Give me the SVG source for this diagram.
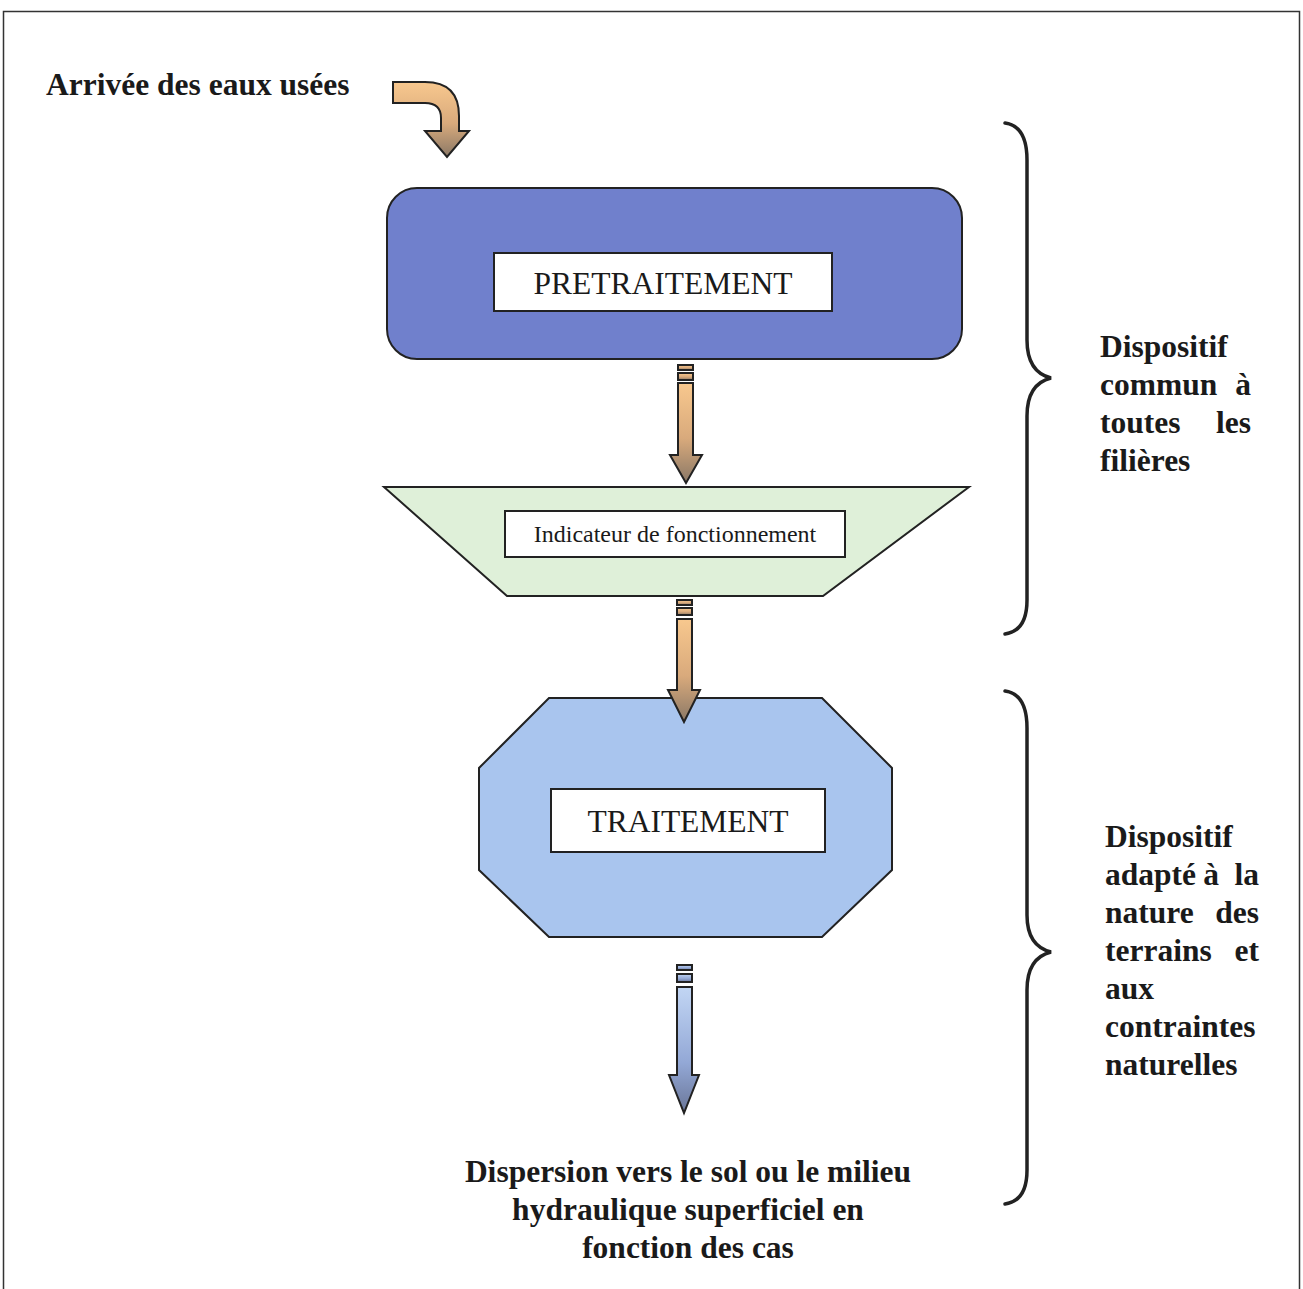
<svg xmlns="http://www.w3.org/2000/svg" width="1303" height="1289" viewBox="0 0 1303 1289">
<style>
.t{font-family:"Liberation Serif","Times New Roman",serif;fill:#1a1a1a}
.b{font-weight:bold;font-size:31.5px}
.shape{stroke:#222;stroke-width:2}
.lbl{fill:#fff;stroke:#222;stroke-width:2}
.brace{fill:none;stroke:#222;stroke-width:3.5;stroke-linecap:round}
.arr{stroke:#222;stroke-width:2;stroke-linejoin:miter}
</style>
<defs>
<linearGradient id="gBrown" x1="0" y1="0" x2="0" y2="1">
<stop offset="0" stop-color="#f8c88e"/>
<stop offset="0.55" stop-color="#d9aa7c"/>
<stop offset="1" stop-color="#8a7866"/>
</linearGradient>
<linearGradient id="gBlue" x1="0" y1="0" x2="0" y2="1">
<stop offset="0" stop-color="#c2d6f4"/>
<stop offset="0.6" stop-color="#93a8d6"/>
<stop offset="1" stop-color="#6a7698"/>
</linearGradient>
</defs>
<rect width="1303" height="1289" fill="#fff"/>
<path d="M3.5,1289 V11.5 H1299.5 V1289" fill="none" stroke="#333" stroke-width="1.5"/>

<g id="arrivee">
<text class="t b" x="46" y="95">Arrivée des eaux usées</text>
</g>

<g id="pretraitement">
<rect class="shape" x="387" y="188" width="575" height="171" rx="30" fill="#7080cc"/>
<rect class="lbl" x="494" y="253" width="338" height="58"/>
<text class="t" x="663" y="294" font-size="31.5" text-anchor="middle">PRETRAITEMENT</text>
</g>

<g id="indicateur">
<polygon class="shape" points="384,487 969,487 823,596 507,596" fill="#dff0d9"/>
<rect class="lbl" x="505" y="511" width="340" height="46"/>
<text class="t" x="675" y="542" font-size="24" text-anchor="middle">Indicateur de fonctionnement</text>
</g>

<g id="traitement">
<polygon class="shape" points="549,698 822,698 892,768 892,870 822,937 549,937 479,870 479,768" fill="#a9c5ee"/>
<rect class="lbl" x="551" y="789" width="274" height="63"/>
<text class="t" x="688" y="832" font-size="31.5" text-anchor="middle">TRAITEMENT</text>
</g>

<g id="dispersion">
<text class="t b" x="688" y="1182" text-anchor="middle">Dispersion vers le sol ou le milieu</text>
<text class="t b" x="688" y="1220" text-anchor="middle">hydraulique superficiel en</text>
<text class="t b" x="688" y="1258" text-anchor="middle">fonction des cas</text>
</g>

<g id="label-commun">
<text class="t b" x="1100" y="357">Dispositif</text>
<text class="t b" x="1100" y="395">commun</text>
<text class="t b" x="1251" y="395" text-anchor="end">à</text>
<text class="t b" x="1100" y="433">toutes</text>
<text class="t b" x="1251" y="433" text-anchor="end">les</text>
<text class="t b" x="1100" y="471">filières</text>
</g>

<g id="label-adapte">
<text class="t b" x="1105" y="847">Dispositif</text>
<text class="t b" x="1105" y="885">adapté</text>
<text class="t b" x="1211" y="885" text-anchor="middle">à</text>
<text class="t b" x="1259" y="885" text-anchor="end">la</text>
<text class="t b" x="1105" y="923">nature</text>
<text class="t b" x="1259" y="923" text-anchor="end">des</text>
<text class="t b" x="1105" y="961">terrains</text>
<text class="t b" x="1259" y="961" text-anchor="end">et</text>
<text class="t b" x="1105" y="999">aux</text>
<text class="t b" x="1105" y="1037">contraintes</text>
<text class="t b" x="1105" y="1075">naturelles</text>
</g>

<g id="connectors">
<path class="arr" fill="url(#gBrown)" d="M393,82 L425,82 Q459,82 459,116 L459,131 L469,131 L447,157 L425,131 L441,131 L441,118 Q441,103 425,103 L393,103 Z"/>

<g fill="url(#gBrown)" class="arr">
<rect x="678" y="365" width="15" height="5"/>
<rect x="678" y="373" width="15" height="7"/>
<path d="M678,383 H693 V455 H702 L686,483 L670,455 H678 Z"/>
</g>

<g fill="url(#gBrown)" class="arr">
<rect x="677" y="600" width="15" height="5"/>
<rect x="677" y="608" width="15" height="7"/>
<path d="M677,619 H692 V690 H700 L684,722 L668,690 H677 Z"/>
</g>

<g fill="url(#gBlue)" class="arr">
<rect x="677" y="965" width="15" height="5"/>
<rect x="677" y="974" width="15" height="8"/>
<path d="M677,987 H692 V1075 H699 L684,1113 L669,1075 H677 Z"/>
</g>

<path class="brace" d="M1005,123 Q1027,126 1027,160 L1027,340 Q1027,372 1051,378 Q1027,384 1027,416 L1027,600 Q1027,631 1005,634"/>
<path class="brace" d="M1005,691 Q1027,694 1027,728 L1027,915 Q1027,946 1051,952 Q1027,958 1027,990 L1027,1170 Q1027,1201 1005,1204"/>
</g>
</svg>
